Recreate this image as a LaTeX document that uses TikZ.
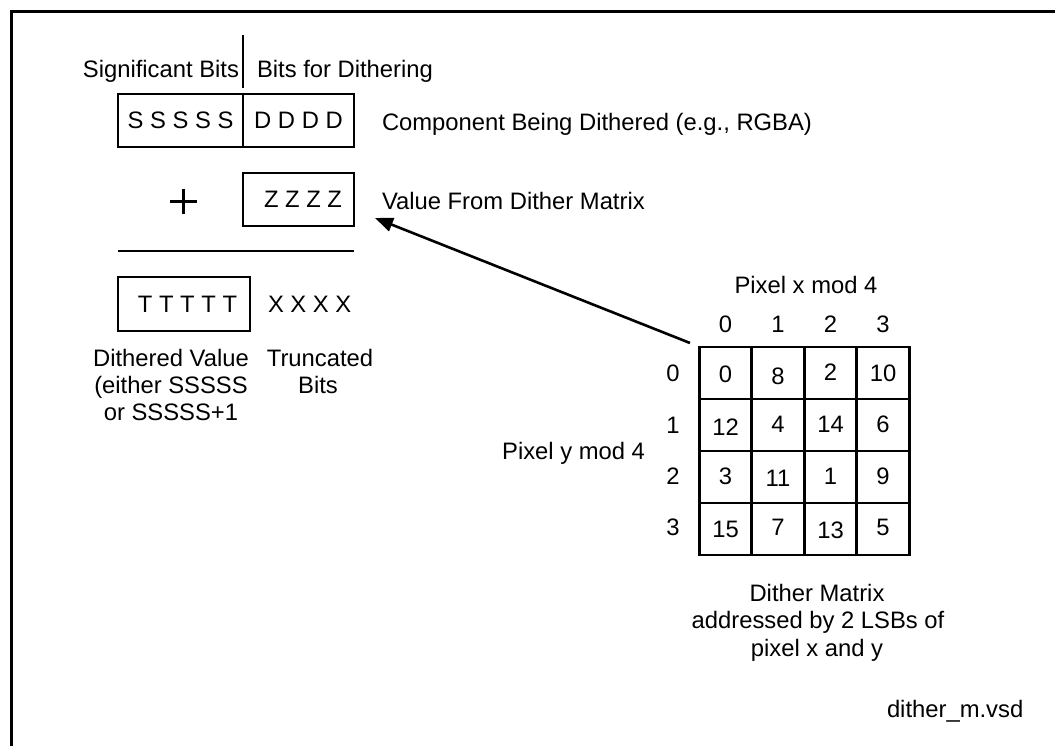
\documentclass[tikz,border=0pt]{standalone}
\usepackage{fontspec}
\setmainfont{Liberation Sans}
\usetikzlibrary{arrows.meta}
\begin{document}
\begin{tikzpicture}[x=1pt,y=-1pt,
  every node/.style={font=\fontsize{23.8}{28}\selectfont, inner sep=0pt, outer sep=0pt},
  box/.style={draw, line width=2.6pt, minimum height=53pt},
  cell/.style={draw, line width=2.6pt, minimum width=52.5pt, minimum height=52pt},
  txt/.style={anchor=base},
  txtw/.style={anchor=base west},
  frame/.style={line width=3pt},
  thin/.style={line width=2.6pt}]
\useasboundingbox (0,0) rectangle (1055,746);
% frame
\draw[frame] (11,746) -- (11,12) -- (1055,12);

% header
\node[anchor=base east] (sig) at (239,78) {Significant Bits};
\node[txtw] (bfd) at (257,78) {Bits for Dithering};
\draw[thin] (243,35) -- (243,88);

% component box
\node[box, minimum width=125pt] (sbox) at (180.5,120.5) {S S S S S};
\node[box, minimum width=111pt] (dbox) at (298.5,120.5) {D D D D};
\node[txtw] (comp) at (382,131) {Component Being Dithered (e.g., RGBA)};

% plus and Z box
\draw[line width=2.2pt] (170,201.5) -- (197,201.5) (183.5,189) -- (183.5,214);
\node[box, minimum width=111pt] (zbox) at (298.5,199.5) {\hspace*{9pt}Z Z Z Z};
\node[txtw] (vfd) at (382,210) {Value From Dither Matrix};

% sum line
\draw[thin] (118,251) -- (354,251);

% result
\node[box, minimum width=132pt, minimum height=54pt] (tbox) at (184,304) {\hspace*{7pt}T T T T T};
\node[txtw] (xbits) at (268,312) {X X X X};

\node[txt] (dv1) at (171,366) {Dithered Value};
\node[txt] (dv2) at (171,393) {(either SSSSS};
\node[txt] (dv3) at (171,420) {or SSSSS+1};
\node[txt] (tr1) at (320,366) {Truncated};
\node[txt] (tr2) at (318,393) {Bits};

% matrix
\node[txt] (pxm) at (806,293) {Pixel x mod 4};
\node[anchor=base east] (pym) at (645,459) {Pixel y mod 4};
\foreach \c/\x in {0/725.5,1/778,2/830.5,3/883}{
  \node[txt] (ch\c) at (\x,332) {\c};
}
\foreach \r/\y in {0/381,1/433,2/484,3/535}{
  \node[txt] (rh\r) at (673,\y) {\r};
}
\foreach \c/\x in {0/725.5,1/778,2/830.5,3/883}{
  \foreach \r/\y in {0/373,1/425,2/477,3/529}{
    \node[cell] (m\r\c) at (\x,\y) {};
  }
}
\foreach \r/\c/\v/\b in {
  0/0/0/382, 0/1/8/384, 0/2/2/380, 0/3/10/381,
  1/0/12/435, 1/1/4/432, 1/2/14/432, 1/3/6/432,
  2/0/3/484, 2/1/11/486, 2/2/1/484, 2/3/9/484,
  3/0/15/537, 3/1/7/535, 3/2/13/538, 3/3/5/535}{
  \path (m\r\c.center) ++(0,\b-373-52*\r) coordinate (p\r\c);
  \node[txt] (v\r\c) at (p\r\c) {\v};
}

% arrow
\coordinate (astart) at (690,343);
\coordinate (atip) at (375,218);
\draw[thin, -{Triangle[length=18pt,width=14pt]}] (astart) -- (atip);

% captions
\node[txt] (dm1) at (817,601) {Dither Matrix};
\node[txt] (dm2) at (818,628) {addressed by 2 LSBs of};
\node[txt] (dm3) at (817,656) {pixel x and y};
\node[txtw] (fname) at (887,717) {dither\_m.vsd};
\end{tikzpicture}
\end{document}
